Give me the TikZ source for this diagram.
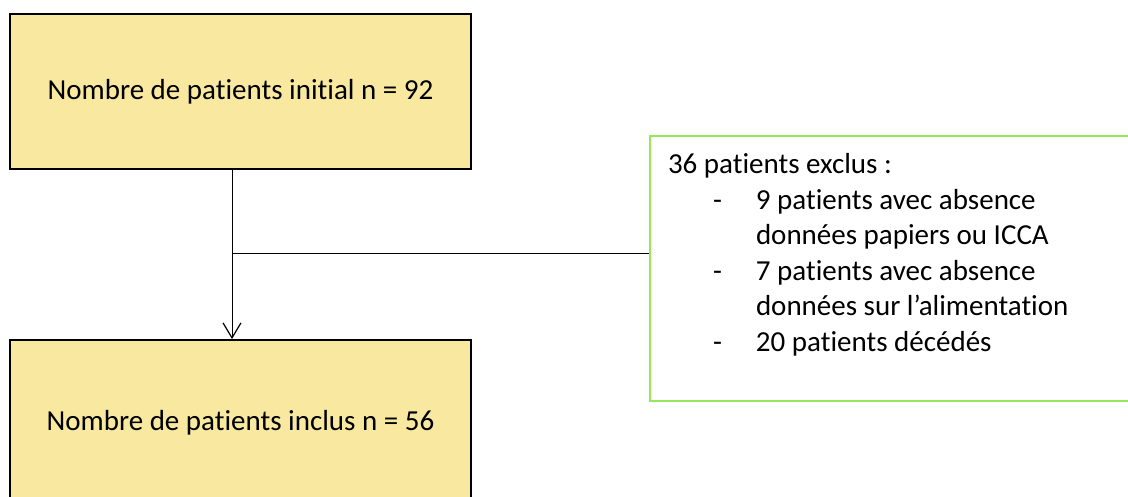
\documentclass[tikz,border=0pt]{standalone}
\usepackage{fontspec}
\setmainfont{Carlito}[Ligatures=NoCommon]
\usetikzlibrary{positioning,calc,arrows.meta}
\definecolor{boxyellow}{RGB}{248,232,160}
\definecolor{boxgreen}{RGB}{150,232,90}

\begin{document}
\begin{tikzpicture}[x=1pt,y=-1pt,
    countbox/.style={draw,line width=2pt,fill=boxyellow,minimum width=461pt,inner sep=0pt,
      font=\fontsize{29}{35.5}\selectfont},
    exclbox/.style={draw=boxgreen,line width=2pt,inner xsep=18pt,inner ysep=17.5pt,
      anchor=north west,font=\fontsize{29}{35.5}\selectfont},
    link/.style={line width=1pt}]
  \useasboundingbox (0,0) rectangle (1128,496);
  \clip (0,0) rectangle (1128,496);

  \node[countbox,minimum height=155pt] (init) at (240.5,91.5) {Nombre de patients initial n = 92};
  \node[countbox,minimum height=166pt,below=169pt of init] (incl) {Nombre de patients inclus n = 56};

  % excluded patients
  \node[exclbox] (excl) at (649,135) {\parbox[t][230pt][t]{480pt}{\raggedright
    36 patients exclus :\\
    \hspace*{45pt}\makebox[43pt][l]{-}9 patients avec absence\\
    \hspace*{88pt}données papiers ou ICCA\\
    \hspace*{45pt}\makebox[43pt][l]{-}7 patients avec absence\\
    \hspace*{88pt}données sur l’alimentation\\
    \hspace*{45pt}\makebox[43pt][l]{-}20 patients décédés}};

  \coordinate (split) at (232,253.5);
  \draw[link,-{Straight Barb[length=15pt,width=18pt,line width=1.2pt]}] (split |- init.south) -- (split |- incl.north);
  \draw[link] (split) -- (split -| excl.west);
\end{tikzpicture}
\end{document}
